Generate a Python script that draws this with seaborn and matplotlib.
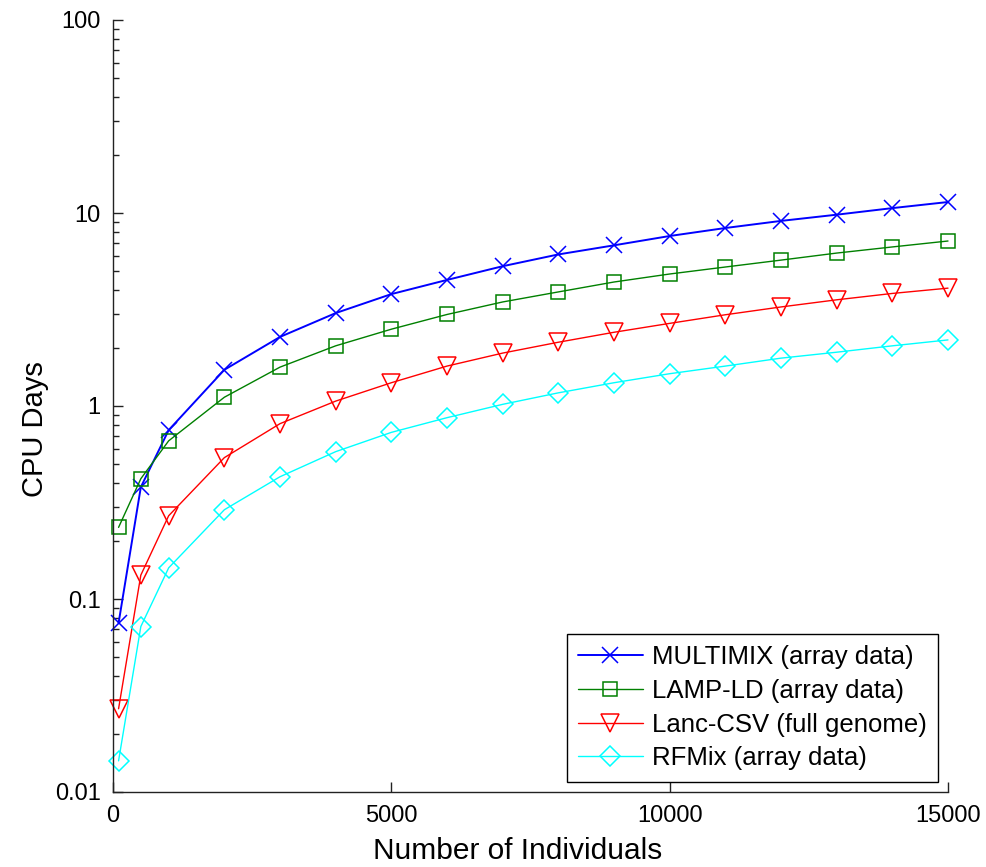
import numpy as np
import pandas as pd
import matplotlib
matplotlib.use("Agg")
import matplotlib.pyplot as plt
import seaborn as sns
from matplotlib.ticker import FixedLocator, FixedFormatter, LogLocator, NullFormatter

# ---- data ----
n_individuals = [100, 500, 1000, 2000, 3000, 4000, 5000, 6000, 7000, 8000,
                 9000, 10000, 11000, 12000, 13000, 14000, 15000]
multimix = [0.075, 0.38, 0.75, 1.54, 2.28, 3.03, 3.8, 4.5, 5.3, 6.1,
            6.8, 7.6, 8.36, 9.1, 9.8, 10.6, 11.4]
lamp_ld = [0.235, 0.42, 0.66, 1.11, 1.59, 2.05, 2.5, 2.98, 3.46, 3.9,
           4.39, 4.83, 5.25, 5.7, 6.2, 6.67, 7.16]
lanc_csv = [0.027, 0.133, 0.27, 0.54, 0.81, 1.06, 1.32, 1.61, 1.88, 2.14,
            2.41, 2.68, 2.97, 3.26, 3.55, 3.83, 4.08]
rfmix = [0.0145, 0.072, 0.145, 0.29, 0.43, 0.58, 0.73, 0.87, 1.02, 1.17,
         1.32, 1.47, 1.61, 1.77, 1.9, 2.05, 2.2]
series_names = ["MULTIMIX (array data)", "LAMP-LD (array data)",
                "Lanc-CSV (full genome)", "RFMix (array data)"]
x_ticks = [0, 5000, 10000, 15000]
y_ticks = [0.01, 0.1, 1, 10, 100]
y_tick_labels = ["0.01", "0.1", "1", "10", "100"]

sns.set_style("white")
plt.rcParams['font.family'] = ['Liberation Sans', 'DejaVu Sans']
plt.rcParams['text.color'] = 'black'
plt.rcParams['axes.labelcolor'] = 'black'
plt.rcParams['xtick.color'] = 'black'
plt.rcParams['ytick.color'] = 'black'

fig = plt.figure(figsize=(9.87, 8.67), dpi=100)
ax = fig.add_axes([113/987, 75/867, 835/987, 772/867])

styles = [
    dict(color=(0, 0, 1), marker="x", ms=11, lw=1.4),
    dict(color=(0, 0.5, 0), marker="s", ms=10, lw=1.0),
    dict(color=(1, 0, 0), marker="v", ms=13, lw=1.0),
    dict(color=(0, 1, 1), marker="D", ms=10, lw=1.0),
]
all_values = [multimix, lamp_ld, lanc_csv, rfmix]

for name, vals, st in zip(series_names, all_values, styles):
    df = pd.DataFrame({"n": n_individuals, "days": vals})
    sns.lineplot(data=df, x="n", y="days", ax=ax, color=st["color"],
                 marker=st["marker"], markersize=st["ms"],
                 markerfacecolor="none", markeredgecolor=st["color"],
                 markeredgewidth=1.1, linewidth=st["lw"], label=name,
                 clip_on=False)

ax.set_yscale("log")
ax.set_xlim(0, 15000)
ax.set_ylim(0.01, 100)

ax.xaxis.set_major_locator(FixedLocator(x_ticks))
ax.set_xticklabels([str(v) for v in x_ticks])
ax.yaxis.set_major_locator(FixedLocator(y_ticks))
ax.yaxis.set_major_formatter(FixedFormatter(y_tick_labels))
ax.yaxis.set_minor_locator(LogLocator(base=10, subs=np.arange(2, 10)))
ax.yaxis.set_minor_formatter(NullFormatter())
ax.xaxis.set_minor_locator(FixedLocator([]))

for s in ["top", "right"]:
    ax.spines[s].set_visible(False)
for s in ["left", "bottom"]:
    ax.spines[s].set_color("#222222")
    ax.spines[s].set_linewidth(1.0)

ax.tick_params(axis="both", which="major", direction="in", length=7,
               width=1.0, color="#222222", labelsize=17, pad=9,
               labelcolor="black", left=True, bottom=True)
ax.tick_params(axis="y", which="minor", direction="in", length=4,
               width=1.0, color="#222222", left=True)

ax.set_xlabel("Number of Individuals", fontsize=21.5)
ax.set_ylabel("CPU Days", fontsize=21)
ax.xaxis.set_label_coords(0.485, -0.058)
ax.xaxis.label.set_va("top")
ax.yaxis.set_label_coords(-0.077, 0.47)

leg = ax.legend(loc="lower right", bbox_to_anchor=(0.988, 0.013),
                borderaxespad=0, fontsize=18.5, frameon=True, fancybox=False,
                edgecolor="black", framealpha=1, handlelength=2.5,
                handletextpad=0.35, labelspacing=0.38, borderpad=0.45)
leg.get_frame().set_linewidth(1.0)
for t in leg.get_texts():
    t.set_color("black")

fig.savefig("out.png", dpi=100)
